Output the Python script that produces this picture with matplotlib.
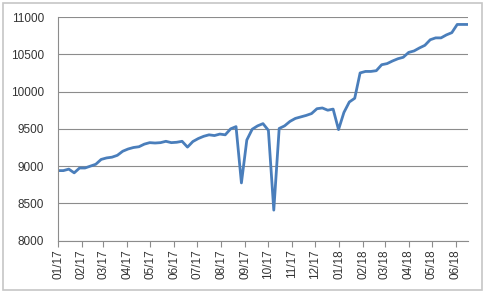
import matplotlib.pyplot as plt
import matplotlib.dates as mdates
import matplotlib.patches as patches
import pandas as pd

# weekly values, first week starting 2017-01-01
values = [8940, 8940, 8960, 8910, 8975, 8975, 9000, 9025, 9090, 9110,
          9120, 9145, 9200, 9230, 9250, 9260, 9295, 9315, 9310, 9315,
          9333, 9315, 9320, 9333, 9255, 9330, 9370, 9400, 9420, 9410,
          9430, 9420, 9500, 9530, 8775, 9350, 9495, 9540, 9570, 9480,
          8410, 9505, 9540, 9600, 9640, 9660, 9680, 9705, 9770, 9780,
          9750, 9765, 9490, 9720, 9860, 9910, 10250, 10270, 10270, 10280,
          10360, 10375, 10410, 10440, 10460, 10525, 10545, 10585, 10620, 10695,
          10720, 10720, 10760, 10790, 10900, 10900, 10900]
dates = pd.date_range('2017-01-01', periods=len(values), freq='7D')
month_ticks = pd.date_range('2017-01-01', '2018-06-01', freq='MS')
y_ticks = [8000, 8500, 9000, 9500, 10000, 10500, 11000]

plt.rcParams['font.family'] = ['Liberation Sans', 'DejaVu Sans']

fig = plt.figure(figsize=(4.88, 2.93), dpi=100)
ax = fig.add_axes([58/488, 1-240.7/293, 410/488, 223.7/293])

# chart border like excel
fig.patches.append(patches.Rectangle((3/488, 3/293), 479/488, 287/293, transform=fig.transFigure,
                                     fill=False, edgecolor='#c6c6c6', linewidth=1.2))

ax.plot(dates, values, color='#4a7ebb', linewidth=2.0, solid_joinstyle='round')

ax.set_ylim(8000, 11000)
ax.set_yticks(y_ticks)
ax.set_xlim(dates[0], dates[-1])
ax.set_xticks(month_ticks)
ax.xaxis.set_major_formatter(mdates.DateFormatter('%m/%y'))
ax.grid(axis='y', color='#8c8c8c', linewidth=0.8)
ax.set_axisbelow(True)

for s in ['top', 'right']:
    ax.spines[s].set_visible(False)
ax.spines['left'].set_color('#8c8c8c')
ax.spines['bottom'].set_color('#8c8c8c')
ax.spines['left'].set_linewidth(0.8)
ax.spines['bottom'].set_linewidth(0.8)

ax.tick_params(axis='y', length=0, pad=10, labelsize=8.5, labelcolor='#333333')
ax.tick_params(axis='x', length=4, width=0.8, color='#8c8c8c', pad=2,
               labelsize=8.5, labelcolor='#333333', labelrotation=90)

fig.savefig('out.png', dpi=100)
